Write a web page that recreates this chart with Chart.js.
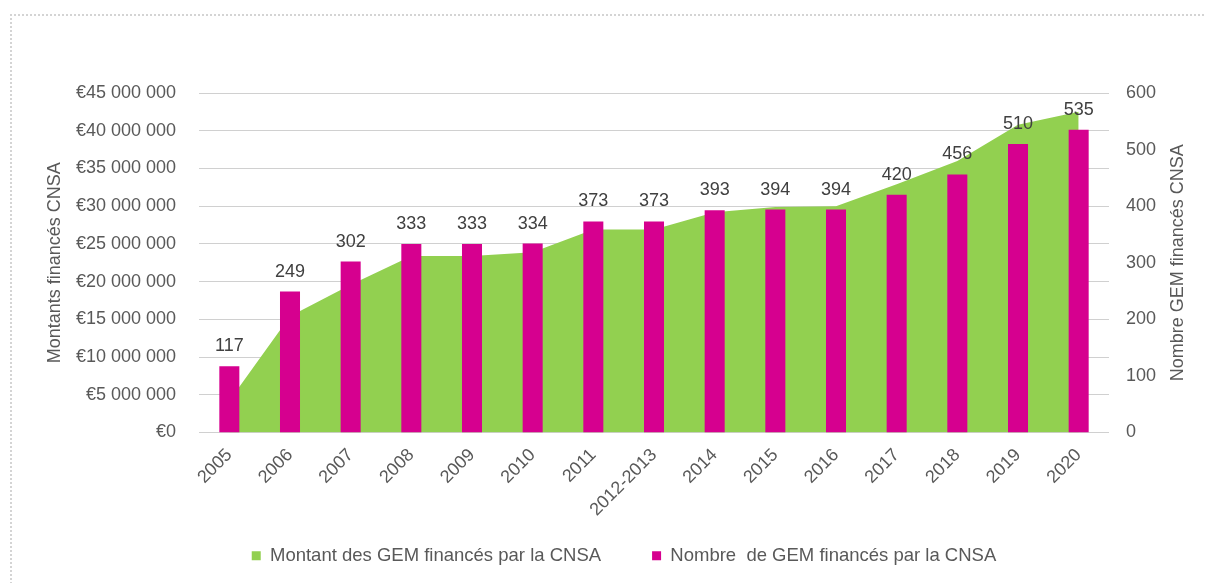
<!DOCTYPE html>
<html>
<head>
<meta charset="utf-8">
<script src="https://cdn.jsdelivr.net/npm/chart.js@4/dist/chart.umd.min.js"></script>
<style>
  body { margin: 0; background: #fff; }
  #frame {
    position: absolute; left: 10px; top: 14px; width: 1400px; height: 800px;
    border-top: 2px dotted #d4d4d4; border-left: 2px dotted #d4d4d4;
  }
  #wrap { position: absolute; left: 0; top: 0; width: 1205px; height: 583px; }
</style>
</head>
<body>
<div id="frame"></div>
<div id="wrap"><canvas id="chart" width="1205" height="583"></canvas></div>
<script>
const categories = ["2005", "2006", "2007", "2008", "2009", "2010", "2011", "2012-2013",
  "2014", "2015", "2016", "2017", "2018", "2019", "2020"];
// montant (euros)
const montants = [4200000, 15400000, 19600000, 23400000, 23400000, 23900000, 26900000, 26900000,
  29200000, 29900000, 30000000, 32900000, 36000000, 40800000, 42500000];
// nombre de GEM, from the bar labels
const nombres = [117, 249, 302, 333, 333, 334, 373, 373, 393, 394, 394, 420, 456, 510, 535];

const leftTitle = "Montants financés CNSA";
const rightTitle = "Nombre GEM financés CNSA";

const GREEN = "#92d050";
const PINK = "#d6008f";
const TEXT = "#595959";
const FONT = "'Liberation Sans', Arial, sans-serif";

// value labels over bars + right axis title (reads bottom to top)
const extras = {
  id: "extras",
  afterLayout(chart) {
    // rotated x labels run past the axis box, don't clip them
    chart.scales.x._computeLabelArea = () => undefined;
  },
  afterDatasetsDraw(chart) {
    const ctx = chart.ctx;
    const meta = chart.getDatasetMeta(1);
    ctx.save();
    ctx.font = "18px " + FONT;
    ctx.fillStyle = "#404040";
    ctx.textAlign = "center";
    ctx.textBaseline = "alphabetic";
    meta.data.forEach((bar, i) => {
      ctx.fillText(String(nombres[i]), bar.x, bar.y - 15);
    });
    const y1 = chart.scales.y1;
    ctx.translate(y1.right - 27, (y1.top + y1.bottom) / 2);
    ctx.rotate(-Math.PI / 2);
    ctx.fillStyle = TEXT;
    ctx.textBaseline = "middle";
    ctx.fillText(rightTitle, 0, 0);
    ctx.restore();
  }
};

const fmtEuro = (v) => "€" + String(v).replace(/\B(?=(\d{3})+(?!\d))/g, " ");

new Chart(document.getElementById("chart"), {
  type: "bar",
  data: {
    labels: categories,
    datasets: [
      {
        type: "line",
        label: "Montant des GEM financés par la CNSA",
        data: montants,
        yAxisID: "y",
        fill: "origin",
        backgroundColor: GREEN,
        borderColor: GREEN,
        borderWidth: 0,
        pointRadius: 0,
        tension: 0,
        order: 2
      },
      {
        type: "bar",
        label: "Nombre  de GEM financés par la CNSA",
        data: nombres,
        yAxisID: "y1",
        backgroundColor: PINK,
        categoryPercentage: 1,
        barPercentage: 0.33,
        order: 1
      }
    ]
  },
  options: {
    responsive: false,
    animation: false,
    devicePixelRatio: 1,
    layout: { padding: { top: 93, left: 43, right: 0, bottom: 8 } },
    plugins: {
      tooltip: { enabled: false },
      legend: {
        position: "bottom",
        align: "center",
        labels: {
          font: { family: FONT, size: 18.5 },
          color: TEXT,
          boxWidth: 9,
          boxHeight: 9,
          padding: 51,
          sort: (a, b) => a.datasetIndex - b.datasetIndex
        }
      }
    },
    scales: {
      x: {
        offset: true,
        grid: { display: false },
        border: { display: false },
        ticks: {
          font: { family: FONT, size: 18 },
          color: TEXT,
          minRotation: 45,
          maxRotation: 45,
          autoSkip: false,
          padding: 4
        },
        afterFit: (s) => { s.height = 63; }
      },
      y: {
        position: "left",
        min: 0,
        max: 45000000,
        grid: { color: "#d0d0d0", lineWidth: 1, drawTicks: false },
        border: { display: false },
        ticks: {
          stepSize: 5000000,
          font: { family: FONT, size: 18 },
          color: TEXT,
          padding: 23,
          callback: (v) => fmtEuro(v)
        },
        title: {
          display: true,
          text: leftTitle,
          font: { family: FONT, size: 18 },
          color: TEXT,
          padding: { top: 1, bottom: 0 }
        },
        afterFit: (s) => { s.width = 156; }
      },
      y1: {
        position: "right",
        min: 0,
        max: 600,
        grid: { display: false, drawTicks: false },
        border: { display: false },
        ticks: {
          stepSize: 100,
          font: { family: FONT, size: 18 },
          color: TEXT,
          padding: 17
        },
        afterFit: (s) => { s.width = 96; }
      }
    }
  },
  plugins: [extras]
});
</script>
</body>
</html>
